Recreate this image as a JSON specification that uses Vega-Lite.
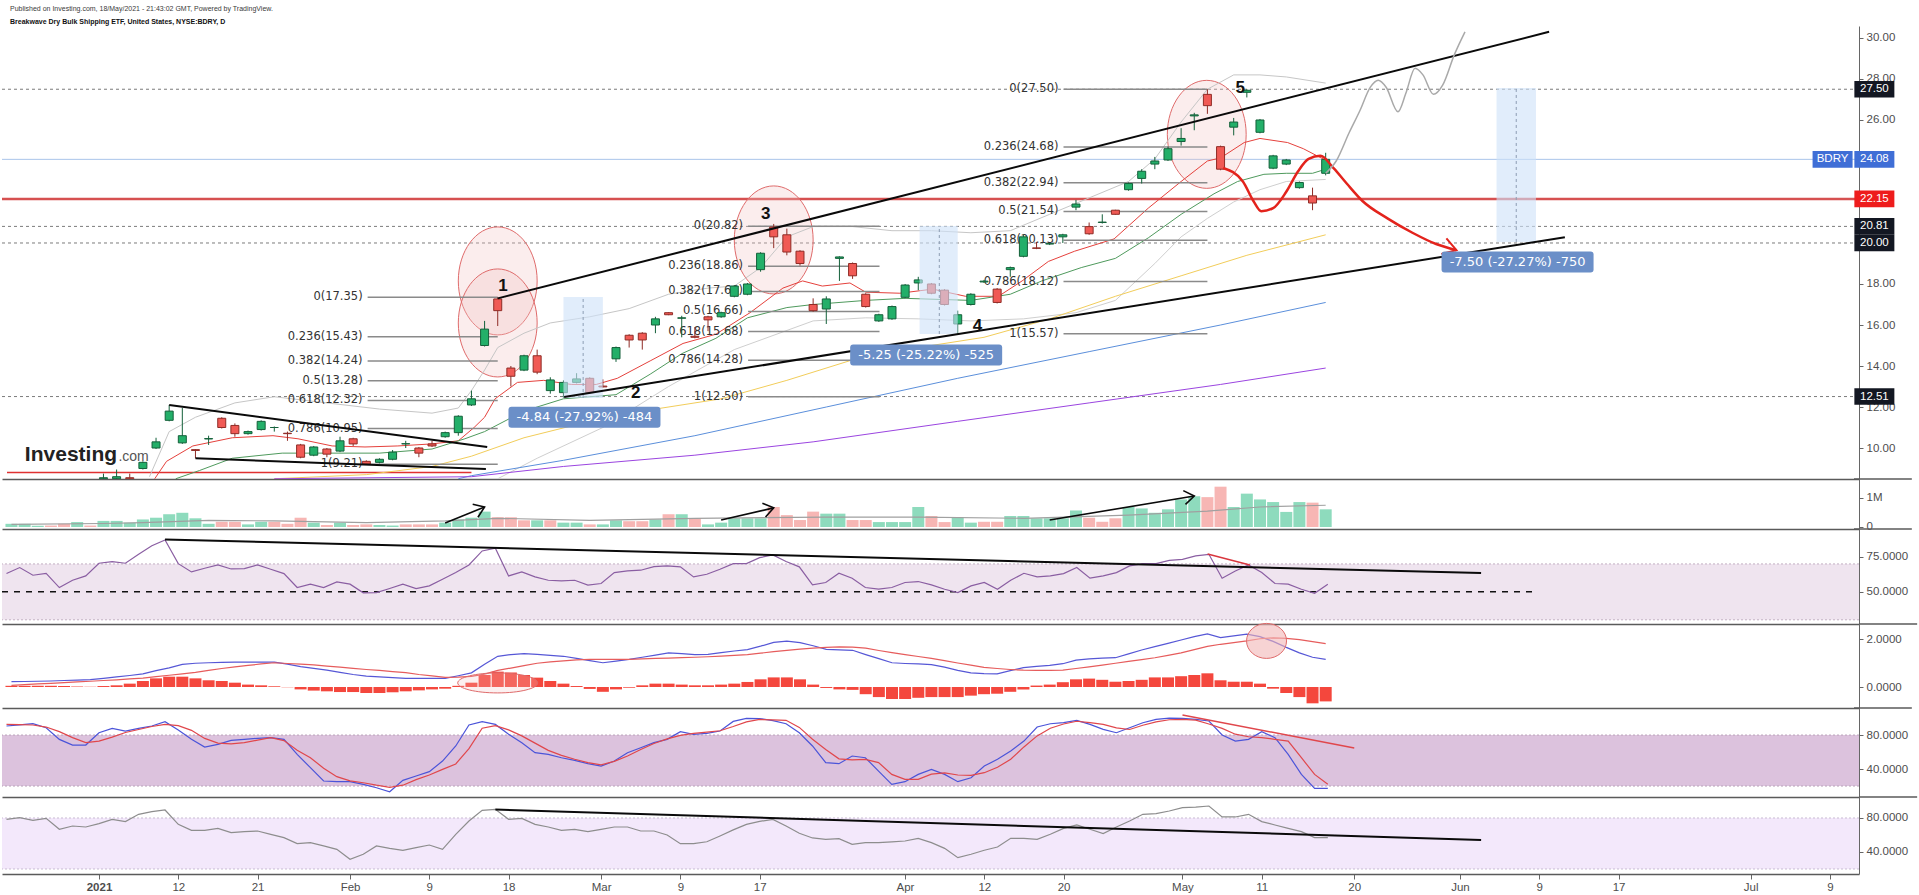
{
  "$schema": "https://vega.github.io/schema/vega-lite/v6.json",
  "padding": {"top": 5, "bottom": 0, "left": 0, "right": 0},
  "bounds": "flush",
  "spacing": 0,
  "title": {
    "text": "Published on Investing.com, 18/May/2021 - 21:43:02 GMT, Powered by TradingView.",
    "subtitle": "Breakwave Dry Bulk Shipping ETF, United States, NYSE:BDRY, D",
    "anchor": "start",
    "frame": "group",
    "dx": 8,
    "font": "Liberation Sans",
    "fontSize": 7,
    "fontWeight": "normal",
    "color": "#3a3a3a",
    "subtitleFont": "Liberation Sans",
    "subtitleFontSize": 7,
    "subtitleFontWeight": "bold",
    "subtitleColor": "#111111",
    "subtitlePadding": 6,
    "offset": 1
  },
  "config": {
    "view": {"stroke": null},
    "axis": {"grid": false, "labelFont": "Liberation Sans", "labelFontSize": 11.5, "labelColor": "#4d4d4d", "tickColor": "#666666", "domainColor": "#666666", "tickSize": 4, "labelPadding": 3},
    "text": {"font": "Liberation Sans"}
  },
  "datasets": {
    "bars": [
      {"i": -7, "v": 0.11, "vu": 1, "r": 63.1, "m": 0.22, "s": 0.07, "hs": 0.05, "k": 90.6, "d": 92.5, "f": 78.4},
      {"i": -6, "v": 0.11, "vu": 1, "r": 67.4, "m": 0.23, "s": 0.10, "hs": 0.05, "k": 92.0, "d": 92.2, "f": 80.4},
      {"i": -5, "v": 0.04, "vu": 1, "r": 61.9, "m": 0.24, "s": 0.13, "hs": 0.05, "k": 93.3, "d": 91.8, "f": 77.3},
      {"i": -4, "v": 0.05, "vu": 0, "r": 63.3, "m": 0.25, "s": 0.15, "hs": 0.05, "k": 88.6, "d": 89.4, "f": 79.6},
      {"i": -3, "v": 0.11, "vu": 0, "r": 53.1, "m": 0.27, "s": 0.18, "hs": 0.04, "k": 74.9, "d": 84.0, "f": 66.7},
      {"i": -2, "v": 0.17, "vu": 1, "r": 58.3, "m": 0.29, "s": 0.21, "hs": 0.02, "k": 68.2, "d": 77.0, "f": 70.6},
      {"i": -1, "v": 0.05, "vu": 0, "r": 61.4, "m": 0.31, "s": 0.24, "hs": 0.01, "k": 68.2, "d": 71.0, "f": 69.4},
      {"i": 0, "o": 8.5, "h": 8.75, "l": 8.4, "c": 8.55, "v": 0.21, "vu": 1, "r": 70.5, "m": 0.36, "s": 0.27, "hs": 0.04, "k": 82.7, "d": 72.9, "f": 73.3},
      {"i": 1, "o": 8.5, "h": 8.95, "l": 8.4, "c": 8.6, "v": 0.21, "vu": 1, "r": 71.7, "m": 0.42, "s": 0.30, "hs": 0.07, "k": 87.8, "d": 77.6, "f": 78.4},
      {"i": 2, "o": 8.55, "h": 8.75, "l": 8.4, "c": 8.5, "v": 0.15, "vu": 1, "r": 70.5, "m": 0.48, "s": 0.34, "hs": 0.14, "k": 84.7, "d": 83.0, "f": 75.7},
      {"i": 3, "o": 9.0, "h": 9.35, "l": 8.95, "c": 9.3, "v": 0.26, "vu": 1, "r": 77.0, "m": 0.55, "s": 0.37, "hs": 0.25, "k": 87.8, "d": 86.5, "f": 84.3},
      {"i": 4, "o": 10.0, "h": 10.5, "l": 9.95, "c": 10.3, "v": 0.32, "vu": 1, "r": 83.0, "m": 0.68, "s": 0.43, "hs": 0.36, "k": 90.6, "d": 90.0, "f": 87.5},
      {"i": 5, "o": 11.35, "h": 12.1, "l": 11.3, "c": 11.8, "v": 0.44, "vu": 1, "r": 87.1, "m": 0.80, "s": 0.49, "hs": 0.43, "k": 95.7, "d": 92.5, "f": 89.4},
      {"i": 6, "o": 10.25, "h": 11.95, "l": 10.2, "c": 10.6, "v": 0.49, "vu": 1, "r": 70.2, "m": 0.94, "s": 0.55, "hs": 0.43, "k": 86.0, "d": 91.0, "f": 72.5},
      {"i": 7, "o": 9.92, "h": 9.95, "l": 9.5, "c": 9.88, "v": 0.30, "vu": 1, "r": 64.3, "m": 0.99, "s": 0.61, "hs": 0.36, "k": 75.0, "d": 85.5, "f": 65.5},
      {"i": 8, "o": 10.44, "h": 10.6, "l": 10.15, "c": 10.46, "v": 0.11, "vu": 1, "r": 66.9, "m": 1.01, "s": 0.69, "hs": 0.28, "k": 65.9, "d": 76.0, "f": 65.5},
      {"i": 9, "o": 11.45, "h": 11.5, "l": 10.95, "c": 11.0, "v": 0.18, "vu": 0, "r": 69.3, "m": 1.03, "s": 0.77, "hs": 0.25, "k": 69.0, "d": 70.5, "f": 67.8},
      {"i": 10, "o": 11.1, "h": 11.2, "l": 10.55, "c": 10.7, "v": 0.18, "vu": 0, "r": 66.4, "m": 1.04, "s": 0.84, "hs": 0.18, "k": 73.7, "d": 69.5, "f": 62.7},
      {"i": 11, "o": 10.7, "h": 10.85, "l": 10.65, "c": 10.8, "v": 0.09, "vu": 1, "r": 66.7, "m": 1.04, "s": 0.90, "hs": 0.10, "k": 74.9, "d": 71.0, "f": 63.9},
      {"i": 12, "o": 10.9, "h": 11.35, "l": 10.85, "c": 11.3, "v": 0.18, "vu": 1, "r": 69.3, "m": 1.04, "s": 0.96, "hs": 0.07, "k": 76.1, "d": 74.0, "f": 64.7},
      {"i": 13, "o": 11.0, "h": 11.05, "l": 10.8, "c": 11.0, "v": 0.18, "vu": 0, "r": 66.2, "m": 1.04, "s": 1.01, "hs": 0.03, "k": 76.9, "d": 76.9, "f": 60.8},
      {"i": 14, "o": 10.72, "h": 10.8, "l": 10.35, "c": 10.7, "v": 0.11, "vu": 0, "r": 63.1, "m": 0.95, "s": 0.98, "hs": -0.01, "k": 74.9, "d": 73.5, "f": 56.9},
      {"i": 15, "o": 10.15, "h": 10.2, "l": 9.5, "c": 9.55, "v": 0.32, "vu": 0, "r": 53.1, "m": 0.85, "s": 0.95, "hs": -0.10, "k": 57.3, "d": 62.0, "f": 49.8},
      {"i": 16, "o": 9.65, "h": 10.1, "l": 9.6, "c": 10.05, "v": 0.15, "vu": 1, "r": 55.5, "m": 0.78, "s": 0.92, "hs": -0.15, "k": 41.6, "d": 53.3, "f": 51.0},
      {"i": 17, "o": 9.95, "h": 10.0, "l": 9.55, "c": 9.7, "v": 0.07, "vu": 0, "r": 53.1, "m": 0.70, "s": 0.87, "hs": -0.18, "k": 25.9, "d": 41.0, "f": 47.1},
      {"i": 18, "o": 9.85, "h": 10.55, "l": 9.8, "c": 10.35, "v": 0.15, "vu": 1, "r": 57.1, "m": 0.61, "s": 0.83, "hs": -0.21, "k": 25.1, "d": 31.0, "f": 43.1},
      {"i": 19, "o": 10.45, "h": 10.5, "l": 10.1, "c": 10.2, "v": 0.07, "vu": 0, "r": 55.5, "m": 0.52, "s": 0.78, "hs": -0.21, "k": 25.1, "d": 26.0, "f": 31.4},
      {"i": 20, "o": 9.35, "h": 9.4, "l": 9.21, "c": 9.22, "v": 0.09, "vu": 0, "r": 49.3, "m": 0.45, "s": 0.73, "hs": -0.25, "k": 22.0, "d": 23.9, "f": 37.3},
      {"i": 21, "o": 9.3, "h": 9.5, "l": 9.25, "c": 9.45, "v": 0.07, "vu": 1, "r": 49.5, "m": 0.42, "s": 0.69, "hs": -0.25, "k": 18.0, "d": 21.0, "f": 47.1},
      {"i": 22, "o": 9.45, "h": 9.9, "l": 9.4, "c": 9.8, "v": 0.05, "vu": 1, "r": 52.4, "m": 0.39, "s": 0.64, "hs": -0.22, "k": 13.3, "d": 18.5, "f": 44.3},
      {"i": 23, "o": 10.2, "h": 10.35, "l": 10.0, "c": 10.21, "v": 0.09, "vu": 0, "r": 55.5, "m": 0.36, "s": 0.60, "hs": -0.18, "k": 26.7, "d": 21.0, "f": 42.0},
      {"i": 24, "o": 10.0, "h": 10.05, "l": 9.55, "c": 9.75, "v": 0.09, "vu": 0, "r": 52.4, "m": 0.36, "s": 0.52, "hs": -0.14, "k": 31.8, "d": 27.5, "f": 45.1},
      {"i": 25, "o": 10.2, "h": 10.35, "l": 10.05, "c": 10.1, "v": 0.09, "vu": 0, "r": 54.3, "m": 0.36, "s": 0.46, "hs": -0.10, "k": 36.9, "d": 33.0, "f": 48.2},
      {"i": 26, "o": 10.55, "h": 10.8, "l": 10.5, "c": 10.75, "v": 0.15, "vu": 1, "r": 59.0, "m": 0.36, "s": 0.40, "hs": -0.07, "k": 49.4, "d": 39.6, "f": 43.1},
      {"i": 27, "o": 10.75, "h": 11.6, "l": 10.6, "c": 11.55, "v": 0.26, "vu": 1, "r": 63.8, "m": 0.47, "s": 0.41, "hs": 0.05, "k": 67.1, "d": 46.0, "f": 60.8},
      {"i": 28, "o": 12.1, "h": 12.8, "l": 12.05, "c": 12.4, "v": 0.32, "vu": 1, "r": 69.3, "m": 0.59, "s": 0.44, "hs": 0.18, "k": 91.8, "d": 64.0, "f": 76.5},
      {"i": 29, "o": 15.0, "h": 16.2, "l": 14.95, "c": 15.8, "v": 0.53, "vu": 1, "r": 79.3, "m": 0.95, "s": 0.54, "hs": 0.50, "k": 95.7, "d": 88.0, "f": 89.0},
      {"i": 30, "o": 17.27, "h": 17.35, "l": 15.95, "c": 16.7, "v": 0.34, "vu": 0, "r": 81.2, "m": 1.28, "s": 0.69, "hs": 0.64, "k": 92.5, "d": 91.0, "f": 90.2},
      {"i": 31, "o": 13.9, "h": 14.0, "l": 13.0, "c": 13.5, "v": 0.34, "vu": 0, "r": 61.4, "m": 1.35, "s": 0.79, "hs": 0.60, "k": 80.8, "d": 86.0, "f": 78.4},
      {"i": 32, "o": 13.8, "h": 14.55, "l": 13.75, "c": 14.5, "v": 0.23, "vu": 0, "r": 64.3, "m": 1.39, "s": 0.89, "hs": 0.50, "k": 71.0, "d": 79.0, "f": 79.6},
      {"i": 33, "o": 14.5, "h": 14.8, "l": 13.6, "c": 13.7, "v": 0.23, "vu": 1, "r": 60.7, "m": 1.36, "s": 0.99, "hs": 0.39, "k": 59.2, "d": 70.5, "f": 72.5},
      {"i": 34, "o": 12.8, "h": 13.45, "l": 12.65, "c": 13.32, "v": 0.23, "vu": 0, "r": 58.3, "m": 1.32, "s": 1.05, "hs": 0.25, "k": 57.3, "d": 62.0, "f": 69.4},
      {"i": 35, "o": 12.7, "h": 13.3, "l": 12.45, "c": 13.2, "v": 0.15, "vu": 1, "r": 57.9, "m": 1.28, "s": 1.09, "hs": 0.14, "k": 53.3, "d": 56.0, "f": 65.5},
      {"i": 36, "o": 13.2, "h": 13.65, "l": 13.15, "c": 13.37, "v": 0.15, "vu": 1, "r": 58.3, "m": 1.19, "s": 1.13, "hs": 0.04, "k": 50.2, "d": 51.5, "f": 66.7},
      {"i": 37, "o": 13.4, "h": 13.45, "l": 12.65, "c": 12.7, "v": 0.09, "vu": 0, "r": 54.8, "m": 1.10, "s": 1.15, "hs": -0.08, "k": 46.3, "d": 47.5, "f": 63.9},
      {"i": 38, "o": 13.02, "h": 13.35, "l": 12.95, "c": 12.98, "v": 0.09, "vu": 1, "r": 56.0, "m": 1.01, "s": 1.15, "hs": -0.20, "k": 43.5, "d": 45.0, "f": 66.7},
      {"i": 39, "o": 14.35, "h": 14.95, "l": 14.2, "c": 14.9, "v": 0.23, "vu": 1, "r": 63.8, "m": 1.08, "s": 1.15, "hs": -0.10, "k": 49.4, "d": 49.0, "f": 69.4},
      {"i": 40, "o": 15.5, "h": 15.55, "l": 14.9, "c": 15.27, "v": 0.20, "vu": 0, "r": 65.0, "m": 1.15, "s": 1.15, "hs": -0.03, "k": 59.2, "d": 55.3, "f": 69.4},
      {"i": 41, "o": 15.6, "h": 15.65, "l": 14.8, "c": 15.27, "v": 0.20, "vu": 0, "r": 65.5, "m": 1.24, "s": 1.17, "hs": 0.07, "k": 65.1, "d": 63.0, "f": 64.7},
      {"i": 42, "o": 16.0, "h": 16.4, "l": 15.6, "c": 16.3, "v": 0.26, "vu": 1, "r": 68.1, "m": 1.33, "s": 1.19, "hs": 0.14, "k": 71.0, "d": 70.0, "f": 64.7},
      {"i": 43, "o": 16.6, "h": 16.62, "l": 16.48, "c": 16.5, "v": 0.44, "vu": 0, "r": 68.6, "m": 1.42, "s": 1.20, "hs": 0.14, "k": 74.9, "d": 75.5, "f": 60.0},
      {"i": 44, "o": 16.33, "h": 16.45, "l": 15.4, "c": 16.35, "v": 0.44, "vu": 1, "r": 67.9, "m": 1.39, "s": 1.22, "hs": 0.10, "k": 83.9, "d": 79.5, "f": 49.8},
      {"i": 45, "o": 15.45, "h": 15.9, "l": 15.35, "c": 15.4, "v": 0.30, "vu": 0, "r": 60.7, "m": 1.35, "s": 1.24, "hs": 0.07, "k": 80.8, "d": 82.0, "f": 49.8},
      {"i": 46, "o": 16.4, "h": 16.45, "l": 15.7, "c": 16.25, "v": 0.09, "vu": 1, "r": 62.6, "m": 1.36, "s": 1.26, "hs": 0.07, "k": 82.0, "d": 83.5, "f": 52.0},
      {"i": 47, "o": 16.4, "h": 16.65, "l": 16.35, "c": 16.6, "v": 0.15, "vu": 1, "r": 66.2, "m": 1.43, "s": 1.29, "hs": 0.10, "k": 84.7, "d": 85.0, "f": 58.8},
      {"i": 48, "o": 17.4, "h": 17.95, "l": 17.35, "c": 17.9, "v": 0.30, "vu": 1, "r": 70.2, "m": 1.50, "s": 1.32, "hs": 0.14, "k": 96.0, "d": 90.0, "f": 66.0},
      {"i": 49, "o": 17.5, "h": 18.05, "l": 17.45, "c": 18.0, "v": 0.30, "vu": 1, "r": 70.2, "m": 1.56, "s": 1.35, "hs": 0.21, "k": 99.6, "d": 95.5, "f": 72.5},
      {"i": 50, "o": 18.7, "h": 19.55, "l": 18.6, "c": 19.5, "v": 0.30, "vu": 1, "r": 74.5, "m": 1.70, "s": 1.41, "hs": 0.32, "k": 99.4, "d": 98.3, "f": 76.0},
      {"i": 51, "o": 20.78, "h": 20.93, "l": 19.75, "c": 20.3, "v": 0.69, "vu": 0, "r": 76.4, "m": 1.86, "s": 1.47, "hs": 0.40, "k": 97.0, "d": 97.8, "f": 78.4},
      {"i": 52, "o": 20.4, "h": 20.7, "l": 19.4, "c": 19.56, "v": 0.41, "vu": 0, "r": 71.7, "m": 1.91, "s": 1.53, "hs": 0.40, "k": 93.3, "d": 97.3, "f": 70.5},
      {"i": 53, "o": 19.6, "h": 19.65, "l": 18.9, "c": 19.0, "v": 0.24, "vu": 0, "r": 67.9, "m": 1.85, "s": 1.58, "hs": 0.32, "k": 82.7, "d": 89.0, "f": 62.0},
      {"i": 54, "o": 17.0, "h": 17.3, "l": 16.65, "c": 16.7, "v": 0.53, "vu": 0, "r": 55.0, "m": 1.72, "s": 1.62, "hs": 0.10, "k": 67.1, "d": 75.0, "f": 56.5},
      {"i": 55, "o": 16.78, "h": 17.4, "l": 16.05, "c": 17.27, "v": 0.46, "vu": 1, "r": 56.7, "m": 1.57, "s": 1.65, "hs": -0.04, "k": 47.5, "d": 63.1, "f": 54.9},
      {"i": 56, "o": 19.25, "h": 19.35, "l": 18.15, "c": 19.32, "v": 0.46, "vu": 1, "r": 63.3, "m": 1.55, "s": 1.67, "hs": -0.10, "k": 46.3, "d": 52.0, "f": 55.7},
      {"i": 57, "o": 19.0, "h": 19.05, "l": 18.25, "c": 18.4, "v": 0.24, "vu": 0, "r": 59.8, "m": 1.53, "s": 1.66, "hs": -0.12, "k": 55.3, "d": 50.8, "f": 49.0},
      {"i": 58, "o": 17.5, "h": 17.55, "l": 16.85, "c": 16.9, "v": 0.24, "vu": 0, "r": 53.1, "m": 1.35, "s": 1.62, "hs": -0.30, "k": 53.3, "d": 51.4, "f": 51.0},
      {"i": 59, "o": 16.2, "h": 16.55, "l": 16.15, "c": 16.5, "v": 0.17, "vu": 1, "r": 51.9, "m": 1.18, "s": 1.52, "hs": -0.42, "k": 37.6, "d": 47.5, "f": 51.0},
      {"i": 60, "o": 16.3, "h": 16.95, "l": 16.25, "c": 16.9, "v": 0.17, "vu": 1, "r": 53.1, "m": 1.01, "s": 1.43, "hs": -0.50, "k": 22.0, "d": 33.7, "f": 51.8},
      {"i": 61, "o": 17.35, "h": 18.0, "l": 17.3, "c": 17.95, "v": 0.17, "vu": 1, "r": 56.7, "m": 0.98, "s": 1.35, "hs": -0.50, "k": 25.1, "d": 27.8, "f": 52.9},
      {"i": 62, "o": 18.05, "h": 18.35, "l": 17.7, "c": 18.2, "v": 0.69, "vu": 1, "r": 57.4, "m": 0.96, "s": 1.27, "hs": -0.45, "k": 33.7, "d": 27.8, "f": 56.1},
      {"i": 63, "o": 18.0, "h": 18.05, "l": 17.5, "c": 17.55, "v": 0.38, "vu": 0, "r": 55.0, "m": 0.93, "s": 1.19, "hs": -0.42, "k": 39.6, "d": 34.0, "f": 51.0},
      {"i": 64, "o": 17.7, "h": 17.75, "l": 16.95, "c": 17.0, "v": 0.17, "vu": 0, "r": 51.9, "m": 0.83, "s": 1.10, "hs": -0.42, "k": 33.7, "d": 35.5, "f": 44.3},
      {"i": 65, "o": 16.05, "h": 16.7, "l": 15.57, "c": 16.5, "v": 0.34, "vu": 1, "r": 49.5, "m": 0.69, "s": 1.00, "hs": -0.42, "k": 25.1, "d": 33.0, "f": 33.3},
      {"i": 66, "o": 17.0, "h": 17.55, "l": 16.95, "c": 17.5, "v": 0.15, "vu": 1, "r": 54.3, "m": 0.59, "s": 0.91, "hs": -0.36, "k": 29.8, "d": 32.5, "f": 37.3},
      {"i": 67, "o": 18.1, "h": 18.2, "l": 18.05, "c": 18.14, "v": 0.18, "vu": 0, "r": 56.7, "m": 0.56, "s": 0.82, "hs": -0.30, "k": 43.5, "d": 35.7, "f": 42.0},
      {"i": 68, "o": 17.75, "h": 17.8, "l": 17.05, "c": 17.1, "v": 0.18, "vu": 0, "r": 51.9, "m": 0.55, "s": 0.77, "hs": -0.28, "k": 51.4, "d": 42.0, "f": 45.9},
      {"i": 69, "o": 18.7, "h": 18.85, "l": 18.35, "c": 18.8, "v": 0.38, "vu": 1, "r": 58.3, "m": 0.68, "s": 0.73, "hs": -0.20, "k": 61.2, "d": 51.5, "f": 56.1},
      {"i": 70, "o": 19.35, "h": 20.4, "l": 19.3, "c": 20.3, "v": 0.38, "vu": 1, "r": 63.3, "m": 0.81, "s": 0.70, "hs": -0.10, "k": 72.9, "d": 66.0, "f": 56.1},
      {"i": 71, "o": 19.76, "h": 20.05, "l": 19.7, "c": 19.74, "v": 0.30, "vu": 1, "r": 60.7, "m": 0.86, "s": 0.69, "hs": 0.06, "k": 89.4, "d": 79.0, "f": 54.9},
      {"i": 72, "o": 19.95, "h": 20.0, "l": 19.9, "c": 19.97, "v": 0.30, "vu": 1, "r": 61.4, "m": 0.90, "s": 0.69, "hs": 0.10, "k": 93.3, "d": 88.0, "f": 60.8},
      {"i": 73, "o": 20.3, "h": 20.45, "l": 20.0, "c": 20.4, "v": 0.30, "vu": 1, "r": 63.1, "m": 0.97, "s": 0.70, "hs": 0.20, "k": 94.5, "d": 93.0, "f": 67.8},
      {"i": 74, "o": 21.75, "h": 22.1, "l": 21.6, "c": 21.9, "v": 0.57, "vu": 1, "r": 67.4, "m": 1.12, "s": 0.77, "hs": 0.32, "k": 97.3, "d": 96.2, "f": 71.8},
      {"i": 75, "o": 20.8, "h": 21.0, "l": 20.4, "c": 20.45, "v": 0.32, "vu": 0, "r": 59.8, "m": 1.17, "s": 0.84, "hs": 0.35, "k": 92.5, "d": 94.5, "f": 66.7},
      {"i": 76, "o": 21.0, "h": 21.4, "l": 20.95, "c": 21.02, "v": 0.18, "vu": 0, "r": 61.4, "m": 1.20, "s": 0.91, "hs": 0.30, "k": 86.7, "d": 92.5, "f": 61.6},
      {"i": 77, "o": 21.6, "h": 21.62, "l": 21.38, "c": 21.4, "v": 0.30, "vu": 0, "r": 63.8, "m": 1.22, "s": 0.99, "hs": 0.22, "k": 82.7, "d": 88.5, "f": 69.4},
      {"i": 78, "o": 22.6, "h": 22.95, "l": 22.55, "c": 22.9, "v": 0.69, "vu": 1, "r": 68.6, "m": 1.38, "s": 1.07, "hs": 0.25, "k": 88.6, "d": 86.5, "f": 76.5},
      {"i": 79, "o": 23.15, "h": 23.6, "l": 22.9, "c": 23.5, "v": 0.64, "vu": 1, "r": 70.2, "m": 1.54, "s": 1.14, "hs": 0.30, "k": 94.5, "d": 91.5, "f": 84.3},
      {"i": 80, "o": 23.85, "h": 24.2, "l": 23.6, "c": 24.0, "v": 0.49, "vu": 1, "r": 70.2, "m": 1.68, "s": 1.22, "hs": 0.40, "k": 98.4, "d": 95.5, "f": 85.1},
      {"i": 81, "o": 24.05, "h": 24.7, "l": 24.0, "c": 24.6, "v": 0.61, "vu": 1, "r": 72.6, "m": 1.82, "s": 1.32, "hs": 0.40, "k": 100.0, "d": 98.0, "f": 88.2},
      {"i": 82, "o": 24.95, "h": 25.6, "l": 24.75, "c": 25.1, "v": 0.95, "vu": 1, "r": 73.3, "m": 1.96, "s": 1.42, "hs": 0.45, "k": 99.6, "d": 98.5, "f": 92.2},
      {"i": 83, "o": 26.2, "h": 26.35, "l": 25.5, "c": 26.25, "v": 1.06, "vu": 1, "r": 75.7, "m": 2.10, "s": 1.56, "hs": 0.50, "k": 98.4, "d": 97.5, "f": 92.9},
      {"i": 84, "o": 27.25, "h": 27.5, "l": 26.3, "c": 26.7, "v": 1.03, "vu": 0, "r": 76.9, "m": 2.21, "s": 1.69, "hs": 0.57, "k": 96.5, "d": 93.0, "f": 94.1},
      {"i": 85, "o": 24.7, "h": 24.75, "l": 23.55, "c": 23.6, "v": 1.39, "vu": 0, "r": 59.8, "m": 2.06, "s": 1.78, "hs": 0.28, "k": 80.0, "d": 87.8, "f": 81.2},
      {"i": 86, "o": 25.65, "h": 26.1, "l": 25.25, "c": 25.9, "v": 0.69, "vu": 1, "r": 65.0, "m": 2.13, "s": 1.85, "hs": 0.22, "k": 72.9, "d": 81.0, "f": 81.2},
      {"i": 87, "o": 27.35, "h": 27.5, "l": 27.1, "c": 27.45, "v": 1.15, "vu": 1, "r": 69.3, "m": 2.20, "s": 1.92, "hs": 0.22, "k": 74.9, "d": 78.0, "f": 84.3},
      {"i": 88, "o": 25.4, "h": 26.05, "l": 25.35, "c": 26.0, "v": 0.95, "vu": 1, "r": 63.8, "m": 2.10, "s": 2.01, "hs": 0.14, "k": 83.9, "d": 77.0, "f": 75.7},
      {"i": 89, "o": 23.65, "h": 24.3, "l": 23.6, "c": 24.25, "v": 0.86, "vu": 1, "r": 56.0, "m": 1.90, "s": 2.05, "hs": -0.07, "k": 76.9, "d": 75.0, "f": 71.8},
      {"i": 90, "o": 23.85, "h": 24.1, "l": 23.8, "c": 24.05, "v": 0.52, "vu": 1, "r": 55.5, "m": 1.65, "s": 2.03, "hs": -0.25, "k": 57.3, "d": 72.9, "f": 67.8},
      {"i": 91, "o": 22.7, "h": 23.0, "l": 22.65, "c": 22.95, "v": 0.86, "vu": 1, "r": 51.9, "m": 1.42, "s": 1.97, "hs": -0.42, "k": 33.7, "d": 53.3, "f": 63.9},
      {"i": 92, "o": 22.3, "h": 22.7, "l": 21.6, "c": 21.95, "v": 0.84, "vu": 0, "r": 49.0, "m": 1.24, "s": 1.89, "hs": -0.68, "k": 17.3, "d": 33.7, "f": 56.9},
      {"i": 93, "o": 23.4, "h": 24.4, "l": 23.3, "c": 24.08, "v": 0.61, "vu": 1, "r": 55.5, "m": 1.15, "s": 1.81, "hs": -0.60, "k": 17.3, "d": 22.0, "f": 56.9}
    ],
    "ma": [
      {"s": "red", "i": 3.9, "p": 8.5}, {"s": "red", "i": 4.8, "p": 9.35}, {"s": "red", "i": 6.8, "p": 10.1}, {"s": "red", "i": 9.8, "p": 10.5}, {"s": "red", "i": 12.9, "p": 10.6}, {"s": "red", "i": 14.8, "p": 10.45}, {"s": "red", "i": 17.4, "p": 10.1}, {"s": "red", "i": 19.9, "p": 10.05}, {"s": "red", "i": 22.4, "p": 10.1}, {"s": "red", "i": 25, "p": 10.2}, {"s": "red", "i": 27, "p": 10.35}, {"s": "red", "i": 28.2, "p": 11.0}, {"s": "red", "i": 29, "p": 11.5}, {"s": "red", "i": 29.8, "p": 12.4}, {"s": "red", "i": 31.5, "p": 13.2}, {"s": "red", "i": 33.5, "p": 13.3}, {"s": "red", "i": 35.6, "p": 13.1}, {"s": "red", "i": 37.5, "p": 13.1}, {"s": "red", "i": 39.1, "p": 13.4}, {"s": "red", "i": 41.6, "p": 14.25}, {"s": "red", "i": 44.1, "p": 15.1}, {"s": "red", "i": 46.6, "p": 15.55}, {"s": "red", "i": 49.2, "p": 16.6}, {"s": "red", "i": 51.7, "p": 17.8}, {"s": "red", "i": 53.2, "p": 18.15}, {"s": "red", "i": 54.7, "p": 17.9}, {"s": "red", "i": 56.8, "p": 18.05}, {"s": "red", "i": 58, "p": 17.6}, {"s": "red", "i": 60.6, "p": 17.55}, {"s": "red", "i": 63.1, "p": 17.75}, {"s": "red", "i": 65.6, "p": 17.4}, {"s": "red", "i": 68.1, "p": 17.4}, {"s": "red", "i": 69.9, "p": 18.15}, {"s": "red", "i": 71.9, "p": 19.1}, {"s": "red", "i": 73.9, "p": 19.6}, {"s": "red", "i": 76.9, "p": 20.2}, {"s": "red", "i": 79.5, "p": 21.7}, {"s": "red", "i": 82, "p": 23.0}, {"s": "red", "i": 84, "p": 24.0}, {"s": "red", "i": 85, "p": 24.15}, {"s": "red", "i": 86.8, "p": 24.9}, {"s": "red", "i": 88, "p": 25.1}, {"s": "red", "i": 90.1, "p": 24.9}, {"s": "red", "i": 91.3, "p": 24.6}, {"s": "red", "i": 93.1, "p": 24.0},
      {"s": "grn", "i": 5.5, "p": 8.5}, {"s": "grn", "i": 7.3, "p": 8.9}, {"s": "grn", "i": 9.8, "p": 9.5}, {"s": "grn", "i": 13.6, "p": 9.75}, {"s": "grn", "i": 21, "p": 9.75}, {"s": "grn", "i": 25, "p": 9.95}, {"s": "grn", "i": 27.5, "p": 10.45}, {"s": "grn", "i": 29, "p": 10.8}, {"s": "grn", "i": 32, "p": 11.8}, {"s": "grn", "i": 35, "p": 12.4}, {"s": "grn", "i": 39, "p": 12.6}, {"s": "grn", "i": 41.6, "p": 13.6}, {"s": "grn", "i": 44, "p": 14.6}, {"s": "grn", "i": 46.6, "p": 15.35}, {"s": "grn", "i": 49, "p": 16.35}, {"s": "grn", "i": 52, "p": 16.85}, {"s": "grn", "i": 54, "p": 17.0}, {"s": "grn", "i": 58, "p": 17.2}, {"s": "grn", "i": 61, "p": 17.3}, {"s": "grn", "i": 66, "p": 17.2}, {"s": "grn", "i": 69, "p": 17.5}, {"s": "grn", "i": 71.4, "p": 18.15}, {"s": "grn", "i": 74.4, "p": 18.8}, {"s": "grn", "i": 77, "p": 19.25}, {"s": "grn", "i": 79.5, "p": 20.25}, {"s": "grn", "i": 82, "p": 21.4}, {"s": "grn", "i": 84.5, "p": 22.4}, {"s": "grn", "i": 86.3, "p": 23.0}, {"s": "grn", "i": 88.3, "p": 23.35}, {"s": "grn", "i": 90, "p": 23.4}, {"s": "grn", "i": 92, "p": 23.4}, {"s": "grn", "i": 93, "p": 23.6},
      {"s": "bbu", "i": 3.5, "p": 8.6}, {"s": "bbu", "i": 5, "p": 10.8}, {"s": "bbu", "i": 7, "p": 11.5}, {"s": "bbu", "i": 10, "p": 12.2}, {"s": "bbu", "i": 13, "p": 12.5}, {"s": "bbu", "i": 17, "p": 12.2}, {"s": "bbu", "i": 21, "p": 11.9}, {"s": "bbu", "i": 25, "p": 11.7}, {"s": "bbu", "i": 27, "p": 11.95}, {"s": "bbu", "i": 28, "p": 12.8}, {"s": "bbu", "i": 29, "p": 13.8}, {"s": "bbu", "i": 30, "p": 14.9}, {"s": "bbu", "i": 32, "p": 15.6}, {"s": "bbu", "i": 34, "p": 16.1}, {"s": "bbu", "i": 37, "p": 16.4}, {"s": "bbu", "i": 40, "p": 16.8}, {"s": "bbu", "i": 43, "p": 17.5}, {"s": "bbu", "i": 46, "p": 17.8}, {"s": "bbu", "i": 48, "p": 17.9}, {"s": "bbu", "i": 50, "p": 18.8}, {"s": "bbu", "i": 52, "p": 20.3}, {"s": "bbu", "i": 54, "p": 20.8}, {"s": "bbu", "i": 57, "p": 20.8}, {"s": "bbu", "i": 60, "p": 20.6}, {"s": "bbu", "i": 63, "p": 20.6}, {"s": "bbu", "i": 66, "p": 20.5}, {"s": "bbu", "i": 69, "p": 20.6}, {"s": "bbu", "i": 72, "p": 21.4}, {"s": "bbu", "i": 75, "p": 22.2}, {"s": "bbu", "i": 78, "p": 23.0}, {"s": "bbu", "i": 80, "p": 24.1}, {"s": "bbu", "i": 82, "p": 25.9}, {"s": "bbu", "i": 84, "p": 27.5}, {"s": "bbu", "i": 86, "p": 28.2}, {"s": "bbu", "i": 88, "p": 28.2}, {"s": "bbu", "i": 90, "p": 28.1}, {"s": "bbu", "i": 93, "p": 27.8},
      {"s": "bbl", "i": 30, "p": 8.5}, {"s": "bbl", "i": 33, "p": 9.5}, {"s": "bbl", "i": 38, "p": 11.0}, {"s": "bbl", "i": 43, "p": 13.0}, {"s": "bbl", "i": 48, "p": 14.8}, {"s": "bbl", "i": 54, "p": 16.2}, {"s": "bbl", "i": 58, "p": 16.35}, {"s": "bbl", "i": 62, "p": 16.3}, {"s": "bbl", "i": 66, "p": 16.2}, {"s": "bbl", "i": 70, "p": 16.3}, {"s": "bbl", "i": 74, "p": 16.6}, {"s": "bbl", "i": 77, "p": 17.2}, {"s": "bbl", "i": 80, "p": 19.0}, {"s": "bbl", "i": 82, "p": 20.3}, {"s": "bbl", "i": 84, "p": 21.2}, {"s": "bbl", "i": 86, "p": 22.0}, {"s": "bbl", "i": 88, "p": 22.6}, {"s": "bbl", "i": 90, "p": 23.0}, {"s": "bbl", "i": 93, "p": 23.1},
      {"s": "yel", "i": 13, "p": 8.5}, {"s": "yel", "i": 20, "p": 8.7}, {"s": "yel", "i": 25, "p": 9.1}, {"s": "yel", "i": 28, "p": 9.6}, {"s": "yel", "i": 32, "p": 10.5}, {"s": "yel", "i": 37, "p": 11.3}, {"s": "yel", "i": 42, "p": 11.9}, {"s": "yel", "i": 47, "p": 12.4}, {"s": "yel", "i": 52, "p": 13.3}, {"s": "yel", "i": 57, "p": 14.3}, {"s": "yel", "i": 62, "p": 14.9}, {"s": "yel", "i": 67, "p": 15.4}, {"s": "yel", "i": 72, "p": 16.3}, {"s": "yel", "i": 77, "p": 17.4}, {"s": "yel", "i": 82, "p": 18.4}, {"s": "yel", "i": 87, "p": 19.4}, {"s": "yel", "i": 93, "p": 20.4},
      {"s": "blu", "i": 27, "p": 8.5}, {"s": "blu", "i": 28, "p": 8.65}, {"s": "blu", "i": 35, "p": 9.4}, {"s": "blu", "i": 45, "p": 10.6}, {"s": "blu", "i": 55, "p": 12.0}, {"s": "blu", "i": 65, "p": 13.4}, {"s": "blu", "i": 75, "p": 14.7}, {"s": "blu", "i": 85, "p": 16.0}, {"s": "blu", "i": 93, "p": 17.1},
      {"s": "pur", "i": 13, "p": 8.5}, {"s": "pur", "i": 28, "p": 8.6}, {"s": "pur", "i": 35, "p": 9.1}, {"s": "pur", "i": 45, "p": 9.65}, {"s": "pur", "i": 54, "p": 10.3}, {"s": "pur", "i": 65, "p": 11.3}, {"s": "pur", "i": 75, "p": 12.2}, {"s": "pur", "i": 85, "p": 13.1}, {"s": "pur", "i": 93, "p": 13.9}
    ],
    "levels": [
      {"p": 27.5, "t": "27.50", "k": "b"},
      {"p": 24.08, "t": "24.08", "k": "u"},
      {"p": 22.15, "t": "22.15", "k": "r"},
      {"p": 20.81, "t": "20.81", "k": "b"},
      {"p": 20.0, "t": "20.00", "k": "b"},
      {"p": 12.51, "t": "12.51", "k": "b"}
    ],
    "fibs": [
      {"i1": 20.1, "i2": 30.0, "p": 17.35, "t": "0(17.35)"},
      {"i1": 20.1, "i2": 30.0, "p": 15.43, "t": "0.236(15.43)"},
      {"i1": 20.1, "i2": 30.0, "p": 14.24, "t": "0.382(14.24)"},
      {"i1": 20.1, "i2": 30.0, "p": 13.28, "t": "0.5(13.28)"},
      {"i1": 20.1, "i2": 30.0, "p": 12.32, "t": "0.618(12.32)"},
      {"i1": 20.1, "i2": 30.0, "p": 10.95, "t": "0.786(10.95)"},
      {"i1": 20.1, "i2": 30.0, "p": 9.21, "t": "1(9.21)"},
      {"i1": 49.05, "i2": 59.05, "p": 20.82, "t": "0(20.82)"},
      {"i1": 49.05, "i2": 59.05, "p": 18.86, "t": "0.236(18.86)"},
      {"i1": 49.05, "i2": 59.05, "p": 17.64, "t": "0.382(17.64)"},
      {"i1": 49.05, "i2": 59.05, "p": 16.66, "t": "0.5(16.66)"},
      {"i1": 49.05, "i2": 59.05, "p": 15.68, "t": "0.618(15.68)"},
      {"i1": 49.05, "i2": 59.05, "p": 14.28, "t": "0.786(14.28)"},
      {"i1": 49.05, "i2": 59.05, "p": 12.5, "t": "1(12.50)"},
      {"i1": 73.05, "i2": 84.0, "p": 27.5, "t": "0(27.50)"},
      {"i1": 73.05, "i2": 84.0, "p": 24.68, "t": "0.236(24.68)"},
      {"i1": 73.05, "i2": 84.0, "p": 22.94, "t": "0.382(22.94)"},
      {"i1": 73.05, "i2": 84.0, "p": 21.54, "t": "0.5(21.54)"},
      {"i1": 73.05, "i2": 84.0, "p": 20.13, "t": "0.618(20.13)"},
      {"i1": 73.05, "i2": 84.0, "p": 18.12, "t": "0.786(18.12)"},
      {"i1": 73.05, "i2": 84.0, "p": 15.57, "t": "1(15.57)"}
    ],
    "boxes": [
      {"i1": 35.0, "i2": 38.0, "ic": 36.5, "p1": 12.44, "p2": 17.37},
      {"i1": 62.1, "i2": 65.0, "ic": 63.6, "p1": 15.56, "p2": 20.83},
      {"i1": 106.0, "i2": 109.0, "ic": 107.5, "p1": 20.05, "p2": 27.56}
    ],
    "mlabels": [
      {"i": 36.6, "p": 11.5, "t": "-4.84 (-27.92%) -484"},
      {"i": 62.6, "p": 14.54, "t": "-5.25 (-25.22%) -525"},
      {"i": 107.6, "p": 19.07, "t": "-7.50 (-27.27%) -750"}
    ],
    "waves": [
      {"i": 30.4, "p": 17.9, "t": "1"},
      {"i": 40.5, "p": 12.68, "t": "2"},
      {"i": 50.4, "p": 21.4, "t": "3"},
      {"i": 66.5, "p": 15.95, "t": "4"},
      {"i": 86.5, "p": 27.56, "t": "5"}
    ],
    "ellipses": [
      {"i": 30.0, "p": 18.15},
      {"i": 30.0, "p": 16.1},
      {"i": 51.0, "p": 20.15},
      {"i": 83.95, "p": 25.3}
    ],
    "trend": [
      {"id": 1, "i": 30, "p": 17.3}, {"id": 1, "i": 110, "p": 30.3},
      {"id": 2, "i": 35.05, "p": 12.49}, {"id": 2, "i": 111.2, "p": 20.28},
      {"id": 3, "i": 5, "p": 12.1}, {"id": 3, "i": 29.2, "p": 10.05},
      {"id": 4, "i": 7, "p": 9.5}, {"id": 4, "i": 29.1, "p": 8.98}
    ],
    "rpath": [
      {"i": 85.2, "p": 23.66}, {"i": 86.7, "p": 23.0}, {"i": 87.5, "p": 22.05}, {"i": 88.1, "p": 21.55}, {"i": 89.0, "p": 21.7}, {"i": 90.0, "p": 22.5}, {"i": 90.9, "p": 23.5}, {"i": 91.7, "p": 24.1}, {"i": 92.6, "p": 24.25}, {"i": 93.6, "p": 23.65}, {"i": 94.6, "p": 22.9}, {"i": 95.8, "p": 22.05}, {"i": 97.7, "p": 21.2}, {"i": 99.6, "p": 20.5}, {"i": 101.4, "p": 19.95}, {"i": 102.95, "p": 19.65}
    ],
    "gpath": [
      {"i": 93.0, "p": 23.4}, {"i": 93.8, "p": 24.0}, {"i": 94.8, "p": 25.4}, {"i": 95.6, "p": 26.45}, {"i": 96.4, "p": 27.6}, {"i": 97.0, "p": 27.94}, {"i": 97.6, "p": 27.6}, {"i": 98.5, "p": 26.4}, {"i": 99.1, "p": 27.3}, {"i": 99.8, "p": 28.52}, {"i": 100.4, "p": 28.2}, {"i": 101.2, "p": 27.25}, {"i": 101.9, "p": 27.7}, {"i": 102.8, "p": 29.2}, {"i": 103.6, "p": 30.3}
    ],
    "vma": [
      {"i": -7, "v": 0.09}, {"i": 0, "v": 0.12}, {"i": 3, "v": 0.15}, {"i": 8, "v": 0.23}, {"i": 13, "v": 0.21}, {"i": 20, "v": 0.15}, {"i": 26, "v": 0.21}, {"i": 30, "v": 0.3}, {"i": 37, "v": 0.23}, {"i": 45, "v": 0.3}, {"i": 55, "v": 0.34}, {"i": 62, "v": 0.34}, {"i": 70, "v": 0.3}, {"i": 78, "v": 0.41}, {"i": 84, "v": 0.55}, {"i": 88, "v": 0.69}, {"i": 93, "v": 0.75}
    ],
    "varrows": [
      {"a": 1, "i": 26.0, "v": 0.14}, {"a": 1, "i": 29.0, "v": 0.69},
      {"a": 2, "i": 47.0, "v": 0.24}, {"a": 2, "i": 51.0, "v": 0.66},
      {"a": 3, "i": 72.0, "v": 0.24}, {"a": 3, "i": 83.0, "v": 1.07}
    ]
  },
  "vconcat": [
    {
      "width": 1857,
      "height": 453,
      "layer": [
        {
          "data": {"name": "levels"},
          "transform": [{"filter": "datum.k == 'b'"}],
          "mark": {"type": "rule", "color": "#7b7b7b", "strokeWidth": 1, "strokeDash": [3, 3]},
          "encoding": {
            "y": {"field": "p", "type": "quantitative", "title": null, "scale": {"domain": [8.488, 30.585], "nice": false, "zero": false},
              "axis": {"orient": "right", "values": [10, 12, 14, 16, 18, 26, 28, 30], "format": ".2f", "title": null}}
          }
        },
        {
          "data": {"name": "levels"},
          "transform": [{"filter": "datum.k == 'u'"}],
          "mark": {"type": "rule", "color": "#a9c4ea", "strokeWidth": 1},
          "encoding": {"y": {"field": "p", "type": "quantitative", "title": null}}
        },
        {
          "data": {"name": "levels"},
          "transform": [{"filter": "datum.k == 'r'"}],
          "mark": {"type": "rule", "color": "#d65050", "strokeWidth": 2.5},
          "encoding": {"y": {"field": "p", "type": "quantitative", "title": null}}
        },
        {
          "data": {"values": [{"i1": -7.34, "i2": 28.0, "p": 8.8}]},
          "mark": {"type": "rule", "color": "#e03131", "strokeWidth": 1.5},
          "encoding": {
            "x": {"field": "i1", "type": "quantitative", "title": null, "scale": {"domain": [-7.34, 133.2], "nice": false, "zero": false},
              "axis": {"orient": "bottom", "labels": false, "ticks": false, "domainColor": "#5a5a5a", "domainWidth": 1.5, "title": null}},
            "x2": {"field": "i2"},
            "y": {"field": "p", "type": "quantitative", "title": null}
          }
        },
        {
          "data": {"values": [{"i1": 133.2, "i2": 137.6, "p": 8.488}]},
          "mark": {"type": "rule", "color": "#5a5a5a", "strokeWidth": 1.5},
          "encoding": {
            "x": {"field": "i1", "type": "quantitative", "title": null},
            "x2": {"field": "i2"},
            "y": {"field": "p", "type": "quantitative", "title": null}
          }
        },
        {
          "data": {"name": "ellipses"},
          "mark": {"type": "point", "shape": "M 0.73 0 C 0.73 0.552 0.403 1 0 1 C -0.403 1 -0.73 0.552 -0.73 0 C -0.73 -0.552 -0.403 -1 0 -1 C 0.403 -1 0.73 -0.552 0.73 0 Z", "size": 11664, "filled": true, "fill": "#f3c2c2", "fillOpacity": 0.3, "stroke": "#df6b6b", "strokeWidth": 1, "opacity": 1},
          "encoding": {
            "x": {"field": "i", "type": "quantitative", "title": null},
            "y": {"field": "p", "type": "quantitative", "title": null}
          }
        },
        {
          "data": {"name": "ma"},
          "mark": {"type": "line", "clip": true},
          "encoding": {
            "x": {"field": "i", "type": "quantitative", "title": null},
            "y": {"field": "p", "type": "quantitative", "title": null},
            "color": {"field": "s", "type": "nominal", "legend": null,
              "scale": {"domain": ["bbu", "bbl", "pur", "blu", "yel", "grn", "red"], "range": ["#c6c6c6", "#cfcfcf", "#9b45e0", "#5b8fdb", "#f2cd5a", "#4f9a5d", "#e5413c"]}},
            "strokeWidth": {"field": "s", "type": "nominal", "legend": null,
              "scale": {"domain": ["bbu", "bbl", "pur", "blu", "yel", "grn", "red"], "range": [1, 1, 2.2, 2, 1.6, 1, 1.2]}}
          }
        },
        {
          "data": {"name": "fibs"},
          "mark": {"type": "rule", "color": "#8a8a8a", "strokeWidth": 1.5},
          "encoding": {
            "x": {"field": "i1", "type": "quantitative", "title": null},
            "x2": {"field": "i2"},
            "y": {"field": "p", "type": "quantitative", "title": null}
          }
        },
        {
          "data": {"name": "fibs"},
          "mark": {"type": "text", "align": "right", "baseline": "middle", "dx": -5, "font": "DejaVu Sans", "fontSize": 11.5, "color": "#333333"},
          "encoding": {
            "x": {"field": "i1", "type": "quantitative", "title": null},
            "y": {"field": "p", "type": "quantitative", "title": null},
            "text": {"field": "t"}
          }
        },
        {
          "data": {"name": "bars"},
          "mark": {"type": "rule", "strokeWidth": 1, "clip": true},
          "encoding": {
            "x": {"field": "i", "type": "quantitative", "title": null},
            "y": {"field": "l", "type": "quantitative", "title": null},
            "y2": {"field": "h"},
            "color": {"condition": {"test": "datum.c >= datum.o", "value": "#14603a"}, "value": "#8f2c26"}
          }
        },
        {
          "data": {"name": "bars"},
          "mark": {"type": "bar", "width": 8, "strokeWidth": 1, "clip": true},
          "encoding": {
            "x": {"field": "i", "type": "quantitative", "title": null},
            "y": {"field": "o", "type": "quantitative", "title": null},
            "y2": {"field": "c"},
            "fill": {"condition": {"test": "datum.c >= datum.o", "value": "#23af69"}, "value": "#f05a55"},
            "stroke": {"condition": {"test": "datum.c >= datum.o", "value": "#14603a"}, "value": "#8f2c26"}
          }
        },
        {
          "data": {"name": "boxes"},
          "mark": {"type": "rect", "fill": "#cfe2f8", "opacity": 0.62},
          "encoding": {
            "x": {"field": "i1", "type": "quantitative", "title": null},
            "x2": {"field": "i2"},
            "y": {"field": "p1", "type": "quantitative", "title": null},
            "y2": {"field": "p2"}
          }
        },
        {
          "data": {"name": "boxes"},
          "mark": {"type": "rule", "color": "#8c9db3", "strokeWidth": 1, "strokeDash": [3, 3]},
          "encoding": {
            "x": {"field": "ic", "type": "quantitative", "title": null},
            "y": {"field": "p1", "type": "quantitative", "title": null},
            "y2": {"field": "p2"}
          }
        },
        {
          "data": {"name": "trend"},
          "mark": {"type": "line", "color": "#0a0a0a", "strokeWidth": 2},
          "encoding": {
            "x": {"field": "i", "type": "quantitative", "title": null},
            "y": {"field": "p", "type": "quantitative", "title": null},
            "detail": {"field": "id"}
          }
        },
        {
          "data": {"name": "rpath"},
          "mark": {"type": "line", "color": "#e3231c", "strokeWidth": 2.5, "interpolate": "monotone"},
          "encoding": {
            "x": {"field": "i", "type": "quantitative", "title": null},
            "y": {"field": "p", "type": "quantitative", "title": null}
          }
        },
        {
          "data": {"name": "rpath"},
          "transform": [{"filter": "datum.i > 102.9"}],
          "mark": {"type": "point", "shape": "M -1 -0.62 L 0 0 L -1 0.62", "filled": false, "stroke": "#e3231c", "strokeWidth": 2, "size": 700, "angle": 18, "opacity": 1},
          "encoding": {
            "x": {"field": "i", "type": "quantitative", "title": null},
            "y": {"field": "p", "type": "quantitative", "title": null}
          }
        },
        {
          "data": {"name": "gpath"},
          "mark": {"type": "line", "color": "#a9a9a9", "strokeWidth": 1.5, "interpolate": "monotone"},
          "encoding": {
            "x": {"field": "i", "type": "quantitative", "title": null},
            "y": {"field": "p", "type": "quantitative", "title": null}
          }
        },
        {
          "data": {"name": "waves"},
          "mark": {"type": "text", "fontSize": 17, "fontWeight": "bold", "color": "#111111", "baseline": "middle"},
          "encoding": {
            "x": {"field": "i", "type": "quantitative", "title": null},
            "y": {"field": "p", "type": "quantitative", "title": null},
            "text": {"field": "t"}
          }
        },
        {
          "data": {"name": "mlabels"},
          "mark": {"type": "point", "shape": "M -0.96 -0.138 L 0.96 -0.138 Q 1 -0.138 1 -0.098 L 1 0.098 Q 1 0.138 0.96 0.138 L -0.96 0.138 Q -1 0.138 -1 0.098 L -1 -0.098 Q -1 -0.138 -0.96 -0.138 Z", "size": 23104, "filled": true, "fill": "#6b8fc8", "strokeWidth": 0, "opacity": 1},
          "encoding": {
            "x": {"field": "i", "type": "quantitative", "title": null},
            "y": {"field": "p", "type": "quantitative", "title": null}
          }
        },
        {
          "data": {"name": "mlabels"},
          "mark": {"type": "text", "font": "DejaVu Sans", "fontSize": 13, "color": "#ffffff", "baseline": "middle"},
          "encoding": {
            "x": {"field": "i", "type": "quantitative", "title": null},
            "y": {"field": "p", "type": "quantitative", "title": null},
            "text": {"field": "t"}
          }
        },
        {
          "data": {"name": "levels"},
          "mark": {"type": "point", "shape": "M -1 -0.415 L 1 -0.415 L 1 0.415 L -1 0.415 Z", "size": 1600, "filled": true, "strokeWidth": 0, "opacity": 1},
          "encoding": {
            "x": {"datum": 134.75, "type": "quantitative", "title": null},
            "y": {"field": "p", "type": "quantitative", "title": null},
            "fill": {"condition": [{"test": "datum.k == 'u'", "value": "#3f6ed6"}, {"test": "datum.k == 'r'", "value": "#ee1c1c"}], "value": "#131722"}
          }
        },
        {
          "data": {"name": "levels"},
          "mark": {"type": "text", "fontSize": 11.5, "color": "#ffffff", "baseline": "middle"},
          "encoding": {
            "x": {"datum": 134.75, "type": "quantitative", "title": null},
            "y": {"field": "p", "type": "quantitative", "title": null},
            "text": {"field": "t"}
          }
        },
        {
          "data": {"name": "levels"},
          "transform": [{"filter": "datum.k == 'u'"}],
          "mark": {"type": "point", "shape": "M -1 -0.415 L 1 -0.415 L 1 0.415 L -1 0.415 Z", "size": 1600, "filled": true, "fill": "#3f6ed6", "strokeWidth": 0, "opacity": 1},
          "encoding": {
            "x": {"datum": 131.57, "type": "quantitative", "title": null},
            "y": {"field": "p", "type": "quantitative", "title": null}
          }
        },
        {
          "data": {"name": "levels"},
          "transform": [{"filter": "datum.k == 'u'"}],
          "mark": {"type": "text", "fontSize": 11.5, "color": "#ffffff", "baseline": "middle", "text": "BDRY"},
          "encoding": {
            "x": {"datum": 131.57, "type": "quantitative", "title": null},
            "y": {"field": "p", "type": "quantitative", "title": null}
          }
        },
        {
          "data": {"values": [{"i": -5.98, "p": 9.37, "t": "Investing"}]},
          "mark": {"type": "text", "align": "left", "baseline": "alphabetic", "fontSize": 21, "fontWeight": "bold", "color": "#222222", "letterSpacing": -0.5},
          "encoding": {
            "x": {"field": "i", "type": "quantitative", "title": null},
            "y": {"field": "p", "type": "quantitative", "title": null},
            "text": {"field": "t"}
          }
        },
        {
          "data": {"values": [{"i": 1.14, "p": 9.37, "t": ".com"}]},
          "mark": {"type": "text", "align": "left", "baseline": "alphabetic", "fontSize": 14, "color": "#555555"},
          "encoding": {
            "x": {"field": "i", "type": "quantitative", "title": null},
            "y": {"field": "p", "type": "quantitative", "title": null},
            "text": {"field": "t"}
          }
        }
      ]
    },
    {
      "width": 1857,
      "height": 50,
      "layer": [
        {
          "data": {"name": "bars"},
          "mark": {"type": "bar", "width": 12},
          "encoding": {
            "x": {"field": "i", "type": "quantitative", "title": null, "scale": {"domain": [-7.34, 133.2], "nice": false, "zero": false},
              "axis": {"orient": "bottom", "labels": false, "ticks": false, "domainColor": "#5a5a5a", "domainWidth": 1.5, "title": null}},
            "y": {"field": "v", "type": "quantitative", "title": null, "scale": {"domain": [-0.069, 1.655], "nice": false, "zero": false},
              "axis": {"orient": "right", "values": [0, 1], "labelExpr": "datum.value == 0 ? '0' : '1M'", "title": null}},
            "y2": {"datum": 0},
            "color": {"condition": {"test": "datum.vu == 1", "value": "#8edbbd"}, "value": "#f7b6b4"}
          }
        },
        {
          "data": {"values": [{"i1": 133.2, "i2": 137.6, "v": -0.069}]},
          "mark": {"type": "rule", "color": "#5a5a5a", "strokeWidth": 1.5},
          "encoding": {
            "x": {"field": "i1", "type": "quantitative", "title": null},
            "x2": {"field": "i2"},
            "y": {"field": "v", "type": "quantitative", "title": null}
          }
        },
        {
          "data": {"name": "vma"},
          "mark": {"type": "line", "color": "#a0a0a0", "strokeWidth": 1.2},
          "encoding": {
            "x": {"field": "i", "type": "quantitative", "title": null},
            "y": {"field": "v", "type": "quantitative", "title": null}
          }
        },
        {
          "data": {"name": "varrows"},
          "mark": {"type": "line", "color": "#0a0a0a", "strokeWidth": 1.6},
          "encoding": {
            "x": {"field": "i", "type": "quantitative", "title": null},
            "y": {"field": "v", "type": "quantitative", "title": null},
            "detail": {"field": "a"}
          }
        },
        {
          "data": {"name": "varrows"},
          "transform": [{"filter": "datum.a == 1 && datum.i == 29"}],
          "mark": {"type": "point", "shape": "M -1 -0.7 L 0 0 L -1 0.7", "filled": false, "stroke": "#0a0a0a", "strokeWidth": 1.6, "size": 400, "angle": -22, "opacity": 1},
          "encoding": {
            "x": {"field": "i", "type": "quantitative", "title": null},
            "y": {"field": "v", "type": "quantitative", "title": null}
          }
        },
        {
          "data": {"name": "varrows"},
          "transform": [{"filter": "datum.a == 2 && datum.i == 51"}],
          "mark": {"type": "point", "shape": "M -1 -0.7 L 0 0 L -1 0.7", "filled": false, "stroke": "#0a0a0a", "strokeWidth": 1.6, "size": 400, "angle": -13, "opacity": 1},
          "encoding": {
            "x": {"field": "i", "type": "quantitative", "title": null},
            "y": {"field": "v", "type": "quantitative", "title": null}
          }
        },
        {
          "data": {"name": "varrows"},
          "transform": [{"filter": "datum.a == 3 && datum.i == 83"}],
          "mark": {"type": "point", "shape": "M -1 -0.7 L 0 0 L -1 0.7", "filled": false, "stroke": "#0a0a0a", "strokeWidth": 1.6, "size": 400, "angle": -9, "opacity": 1},
          "encoding": {
            "x": {"field": "i", "type": "quantitative", "title": null},
            "y": {"field": "v", "type": "quantitative", "title": null}
          }
        }
      ]
    },
    {
      "width": 1857,
      "height": 95,
      "layer": [
        {
          "data": {"values": [{"lo": 30, "hi": 70}]},
          "mark": {"type": "rect", "fill": "#efe4ef"},
          "encoding": {
            "y": {"field": "lo", "type": "quantitative", "title": null, "scale": {"domain": [27, 95], "nice": false, "zero": false},
              "axis": {"orient": "right", "values": [50, 75], "format": ".4f", "title": null}},
            "y2": {"field": "hi"}
          }
        },
        {
          "data": {"values": [{"p": 30}, {"p": 70}]},
          "mark": {"type": "rule", "color": "#c2b0c2", "strokeWidth": 1, "strokeDash": [2, 2]},
          "encoding": {"y": {"field": "p", "type": "quantitative", "title": null}}
        },
        {
          "data": {"values": [{"i1": -7.34, "i2": 108.6, "p": 50}]},
          "mark": {"type": "rule", "color": "#111111", "strokeWidth": 1.5, "strokeDash": [6, 6]},
          "encoding": {
            "x": {"field": "i1", "type": "quantitative", "title": null, "scale": {"domain": [-7.34, 133.2], "nice": false, "zero": false},
              "axis": {"orient": "bottom", "labels": false, "ticks": false, "domainColor": "#5a5a5a", "domainWidth": 1.5, "title": null}},
            "x2": {"field": "i2"},
            "y": {"field": "p", "type": "quantitative", "title": null}
          }
        },
        {
          "data": {"values": [{"i1": 133.2, "i2": 137.6, "p": 27}]},
          "mark": {"type": "rule", "color": "#5a5a5a", "strokeWidth": 1.5},
          "encoding": {
            "x": {"field": "i1", "type": "quantitative", "title": null},
            "x2": {"field": "i2"},
            "y": {"field": "p", "type": "quantitative", "title": null}
          }
        },
        {
          "data": {"name": "bars"},
          "mark": {"type": "line", "color": "#8a5ea2", "strokeWidth": 1.2},
          "encoding": {
            "x": {"field": "i", "type": "quantitative", "title": null},
            "y": {"field": "r", "type": "quantitative", "title": null}
          }
        },
        {
          "data": {"values": [{"i": 5, "r": 87.5}, {"i": 104.6, "r": 63.5}]},
          "mark": {"type": "line", "color": "#0a0a0a", "strokeWidth": 2},
          "encoding": {
            "x": {"field": "i", "type": "quantitative", "title": null},
            "y": {"field": "r", "type": "quantitative", "title": null}
          }
        },
        {
          "data": {"values": [{"i": 83.9, "r": 77.1}, {"i": 87.1, "r": 69.3}]},
          "mark": {"type": "line", "color": "#d9363e", "strokeWidth": 1.5},
          "encoding": {
            "x": {"field": "i", "type": "quantitative", "title": null},
            "y": {"field": "r", "type": "quantitative", "title": null}
          }
        }
      ]
    },
    {
      "width": 1857,
      "height": 84,
      "layer": [
        {
          "data": {"name": "bars"},
          "mark": {"type": "bar", "width": 12, "color": "#f4473d"},
          "encoding": {
            "x": {"field": "i", "type": "quantitative", "title": null, "scale": {"domain": [-7.34, 133.2], "nice": false, "zero": false},
              "axis": {"orient": "bottom", "labels": false, "ticks": false, "domainColor": "#5a5a5a", "domainWidth": 1.5, "title": null}},
            "y": {"field": "hs", "type": "quantitative", "title": null, "scale": {"domain": [-0.875, 2.625], "nice": false, "zero": false},
              "axis": {"orient": "right", "values": [0, 2], "format": ".4f", "title": null}},
            "y2": {"datum": 0}
          }
        },
        {
          "data": {"values": [{"i1": 133.2, "i2": 137.6, "m": -0.875}]},
          "mark": {"type": "rule", "color": "#5a5a5a", "strokeWidth": 1.5},
          "encoding": {
            "x": {"field": "i1", "type": "quantitative", "title": null},
            "x2": {"field": "i2"},
            "y": {"field": "m", "type": "quantitative", "title": null}
          }
        },
        {
          "data": {"name": "bars"},
          "mark": {"type": "line", "color": "#5657d6", "strokeWidth": 1.2},
          "encoding": {
            "x": {"field": "i", "type": "quantitative", "title": null},
            "y": {"field": "m", "type": "quantitative", "title": null}
          }
        },
        {
          "data": {"name": "bars"},
          "mark": {"type": "line", "color": "#e65c5c", "strokeWidth": 1.2},
          "encoding": {
            "x": {"field": "i", "type": "quantitative", "title": null},
            "y": {"field": "s", "type": "quantitative", "title": null}
          }
        },
        {
          "data": {"values": [{"i": 30.0, "m": 0.17}]},
          "mark": {"type": "point", "shape": "M 1 0 C 1 0.138 0.552 0.25 0 0.25 C -0.552 0.25 -1 0.138 -1 0 C -1 -0.138 -0.552 -0.25 0 -0.25 C 0.552 -0.25 1 -0.138 1 0 Z", "size": 6400, "filled": true, "fill": "#f3c2c2", "fillOpacity": 0.25, "stroke": "#df6b6b", "strokeWidth": 1, "opacity": 1},
          "encoding": {
            "x": {"field": "i", "type": "quantitative", "title": null},
            "y": {"field": "m", "type": "quantitative", "title": null}
          }
        },
        {
          "data": {"values": [{"i": 88.5, "m": 1.92}]},
          "mark": {"type": "point", "shape": "M 1 0 C 1 0.483 0.552 0.875 0 0.875 C -0.552 0.875 -1 0.483 -1 0 C -1 -0.483 -0.552 -0.875 0 -0.875 C 0.552 -0.875 1 -0.483 1 0 Z", "size": 1600, "filled": true, "fill": "#f2b5b5", "fillOpacity": 0.6, "stroke": "#df6b6b", "strokeWidth": 1, "opacity": 1},
          "encoding": {
            "x": {"field": "i", "type": "quantitative", "title": null},
            "y": {"field": "m", "type": "quantitative", "title": null}
          }
        }
      ]
    },
    {
      "width": 1857,
      "height": 89,
      "layer": [
        {
          "data": {"values": [{"lo": 20, "hi": 80}]},
          "mark": {"type": "rect", "fill": "#dcc2dd"},
          "encoding": {
            "y": {"field": "lo", "type": "quantitative", "title": null, "scale": {"domain": [7.1, 111.8], "nice": false, "zero": false},
              "axis": {"orient": "right", "values": [40, 80], "format": ".4f", "title": null}},
            "y2": {"field": "hi"}
          }
        },
        {
          "data": {"values": [{"p": 20}, {"p": 80}]},
          "mark": {"type": "rule", "color": "#b9a3b9", "strokeWidth": 1, "strokeDash": [2, 2]},
          "encoding": {"y": {"field": "p", "type": "quantitative", "title": null}}
        },
        {
          "data": {"name": "bars"},
          "mark": {"type": "line", "color": "#4b54d9", "strokeWidth": 1.2},
          "encoding": {
            "x": {"field": "i", "type": "quantitative", "title": null, "scale": {"domain": [-7.34, 133.2], "nice": false, "zero": false},
              "axis": {"orient": "bottom", "labels": false, "ticks": false, "domainColor": "#5a5a5a", "domainWidth": 1.5, "title": null}},
            "y": {"field": "k", "type": "quantitative", "title": null}
          }
        },
        {
          "data": {"values": [{"i1": 133.2, "i2": 137.6, "p": 7.1}]},
          "mark": {"type": "rule", "color": "#5a5a5a", "strokeWidth": 1.5},
          "encoding": {
            "x": {"field": "i1", "type": "quantitative", "title": null},
            "x2": {"field": "i2"},
            "y": {"field": "p", "type": "quantitative", "title": null}
          }
        },
        {
          "data": {"name": "bars"},
          "mark": {"type": "line", "color": "#e0474c", "strokeWidth": 1.2},
          "encoding": {
            "x": {"field": "i", "type": "quantitative", "title": null},
            "y": {"field": "d", "type": "quantitative", "title": null}
          }
        },
        {
          "data": {"values": [{"i": 82.0, "d": 103.5}, {"i": 95.0, "d": 64.7}]},
          "mark": {"type": "line", "color": "#e0474c", "strokeWidth": 1.5},
          "encoding": {
            "x": {"field": "i", "type": "quantitative", "title": null},
            "y": {"field": "d", "type": "quantitative", "title": null}
          }
        }
      ]
    },
    {
      "width": 1857,
      "height": 77,
      "layer": [
        {
          "data": {"values": [{"lo": 20, "hi": 80}]},
          "mark": {"type": "rect", "fill": "#f3e8fb"},
          "encoding": {
            "y": {"field": "lo", "type": "quantitative", "title": null, "scale": {"domain": [14.1, 104.7], "nice": false, "zero": false},
              "axis": {"orient": "right", "values": [40, 80], "format": ".4f", "title": null}},
            "y2": {"field": "hi"}
          }
        },
        {
          "data": {"values": [{"p": 20}, {"p": 80}]},
          "mark": {"type": "rule", "color": "#c9bcd3", "strokeWidth": 1, "strokeDash": [2, 2]},
          "encoding": {"y": {"field": "p", "type": "quantitative", "title": null}}
        },
        {
          "data": {"name": "bars"},
          "mark": {"type": "line", "color": "#8d8d8d", "strokeWidth": 1.2},
          "encoding": {
            "x": {"field": "i", "type": "quantitative", "title": null, "scale": {"domain": [-7.34, 133.2], "nice": false, "zero": false},
              "axis": {"orient": "bottom", "values": [0, 6, 12, 19, 25, 31, 38, 44, 50, 61, 67, 73, 82, 88, 95, 103, 109, 115, 125, 131],
                "labelExpr": "['2021','12','21','Feb','9','18','Mar','9','17','Apr','12','20','May','11','20','Jun','9','17','Jul','9'][indexof([0,6,12,19,25,31,38,44,50,61,67,73,82,88,95,103,109,115,125,131], datum.value)]",
                "labelFontWeight": {"condition": {"test": "datum.value == 0", "value": "bold"}, "value": "normal"},
                "labelFlush": false, "labelOverlap": false, "domainColor": "#5a5a5a", "domainWidth": 1.5, "tickSize": 5, "labelPadding": 2, "title": null}},
            "y": {"field": "f", "type": "quantitative", "title": null}
          }
        },
        {
          "data": {"values": [{"i": 30, "f": 90}, {"i": 104.6, "f": 54}]},
          "mark": {"type": "line", "color": "#0a0a0a", "strokeWidth": 2},
          "encoding": {
            "x": {"field": "i", "type": "quantitative", "title": null},
            "y": {"field": "f", "type": "quantitative", "title": null}
          }
        }
      ]
    }
  ]
}
